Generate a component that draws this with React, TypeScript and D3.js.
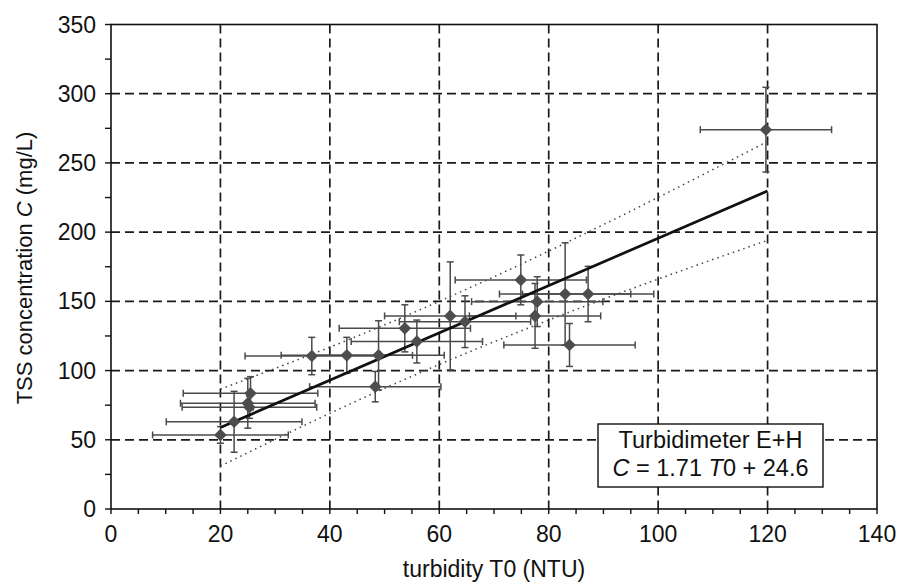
import React from "react";
import * as d3 from "d3";

const turbidity = [20, 22.5, 25.5, 25, 25.3, 36.7, 43.1, 48.9, 48.3, 53.7, 55.9, 62, 64.7, 74.9, 77.9, 77.5, 83, 87.2, 83.8, 119.7];
const tss = [53.5, 63, 83.6, 76.4, 73.5, 110.5, 111, 111, 88.4, 130.5, 121, 139.5, 135.3, 165.5, 149.8, 139.5, 155.3, 155.3, 118.5, 274];
const turbidityErr = [12.4, 12.4, 12.3, 12.3, 12.3, 12.2, 12, 12, 12, 12, 12, 12, 12, 12, 12, 12, 12, 12, 12, 12];
const tssErr = [6, 22, 12, 18, 8, 13.5, 13, 25, 11, 17, 15.5, 39, 18.7, 18, 18, 23.4, 37, 20, 15.5, 30.6];

const fitT = [20, 120];
const fitC = [58.8, 229.8];

const bandT = [20, 40, 60, 80, 100, 120];
const bandUpper = [86.6, 116.9, 150, 186.3, 225.1, 265.5];
const bandLower = [31, 69.1, 104.4, 136.5, 166.1, 194.1];

const xTicks = [0, 20, 40, 60, 80, 100, 120, 140];
const yTicks = [0, 50, 100, 150, 200, 250, 300, 350];
const xGrid = [20, 40, 60, 80, 100, 120];
const yGrid = [50, 100, 150, 200, 250, 300];

const W = 899;
const H = 584;
const FONT = "'Liberation Sans', Arial, Helvetica, sans-serif";

export default function App() {
  const x = d3.scaleLinear().domain([0, 140]).range([111, 877]);
  const y = d3.scaleLinear().domain([0, 350]).range([509, 24.5]);

  const minorX = d3.range(0, 141, 5);
  const minorY = d3.range(0, 351, 25);

  const line = d3
    .line<[number, number]>()
    .x((d) => x(d[0]))
    .y((d) => y(d[1]));
  const curve = d3
    .line<[number, number]>()
    .x((d) => x(d[0]))
    .y((d) => y(d[1]))
    .curve(d3.curveNatural);

  const fitPts = fitT.map((t, i) => [t, fitC[i]] as [number, number]);
  const upPts = bandT.map((t, i) => [t, bandUpper[i]] as [number, number]);
  const loPts = bandT.map((t, i) => [t, bandLower[i]] as [number, number]);

  const dh = 6.3;
  const diamond = `M0,${-dh}L${dh},0L0,${dh}L${-dh},0Z`;
  const cap = 3.5;
  const errColor = "#4a4a4a";

  return (
    <svg
      width={W}
      height={H}
      style={{ position: "absolute", left: 0, top: 0, background: "#fff" }}
      fontFamily={FONT}
    >
      <rect x={0} y={0} width={W} height={H} fill="#fff" />
      {/* grid */}
      {xGrid.map((v) => (
        <line key={"gx" + v} x1={x(v)} x2={x(v)} y1={y(350)} y2={y(0)} stroke="#1a1a1a" strokeWidth={1.7} strokeDasharray="9 5" />
      ))}
      {yGrid.map((v) => (
        <line key={"gy" + v} x1={x(0)} x2={x(140)} y1={y(v)} y2={y(v)} stroke="#1a1a1a" strokeWidth={1.7} strokeDasharray="9 5" />
      ))}
      {/* frame */}
      <rect x={x(0)} y={y(350)} width={x(140) - x(0)} height={y(0) - y(350)} fill="none" stroke="#111" strokeWidth={1.6} />
      {/* ticks */}
      {minorX.map((v) => (
        <line key={"tx" + v} x1={x(v)} x2={x(v)} y1={y(0)} y2={y(0) + 5} stroke="#111" strokeWidth={1.4} />
      ))}
      {minorY.map((v) => (
        <line key={"ty" + v} x1={x(0) - 6} x2={x(0)} y1={y(v)} y2={y(v)} stroke="#111" strokeWidth={1.4} />
      ))}
      {xTicks.map((v) => (
        <text key={"lx" + v} x={x(v)} y={542} textAnchor="middle" fontSize={23} fill="#111">
          {v}
        </text>
      ))}
      {yTicks.map((v) => (
        <text key={"ly" + v} x={96} y={y(v) + 8} textAnchor="end" fontSize={23} fill="#111">
          {v}
        </text>
      ))}
      {/* band */}
      <path d={curve(upPts) || ""} fill="none" stroke="#444" strokeWidth={1.5} strokeDasharray="1.5 4" />
      <path d={curve(loPts) || ""} fill="none" stroke="#444" strokeWidth={1.5} strokeDasharray="1.5 4" />
      {/* error bars */}
      {turbidity.map((t, i) => {
        const cx = x(t);
        const cy = y(tss[i]);
        const x0 = x(t - turbidityErr[i]);
        const x1 = x(t + turbidityErr[i]);
        const y0 = y(tss[i] - tssErr[i]);
        const y1 = y(tss[i] + tssErr[i]);
        return (
          <g key={"e" + i} stroke={errColor} strokeWidth={1.5}>
            <line x1={x0} x2={x1} y1={cy} y2={cy} />
            <line x1={x0} x2={x0} y1={cy - cap} y2={cy + cap} />
            <line x1={x1} x2={x1} y1={cy - cap} y2={cy + cap} />
            <line x1={cx} x2={cx} y1={y0} y2={y1} />
            <line x1={cx - cap} x2={cx + cap} y1={y0} y2={y0} />
            <line x1={cx - cap} x2={cx + cap} y1={y1} y2={y1} />
          </g>
        );
      })}
      {/* fit line */}
      <path d={line(fitPts) || ""} fill="none" stroke="#111" strokeWidth={2.7} />
      {/* points */}
      {turbidity.map((t, i) => (
        <path key={"p" + i} d={diamond} transform={`translate(${x(t)},${y(tss[i])})`} fill="#4d4d4d" />
      ))}
      {/* legend box */}
      <rect x={598} y={424} width={225} height={63} fill="#fff" stroke="#111" strokeWidth={1.4} />
      <text x={710.5} y={448} textAnchor="middle" fontSize={23.5} fill="#111">
        Turbidimeter E+H
      </text>
      <text x={710.5} y={476} textAnchor="middle" fontSize={23.5} fill="#111">
        <tspan fontStyle="italic">C</tspan>
        <tspan> = 1.71 </tspan>
        <tspan fontStyle="italic">T</tspan>
        <tspan>0 + 24.6</tspan>
      </text>
      {/* axis titles */}
      <text x={494} y={577} textAnchor="middle" fontSize={23} fill="#111">
        turbidity T0 (NTU)
      </text>
      <text transform="translate(32,268) rotate(-90)" textAnchor="middle" fontSize={22} fill="#111">
        <tspan>TSS concentration </tspan>
        <tspan fontStyle="italic">C</tspan>
        <tspan> (mg/L)</tspan>
      </text>
    </svg>
  );
}
